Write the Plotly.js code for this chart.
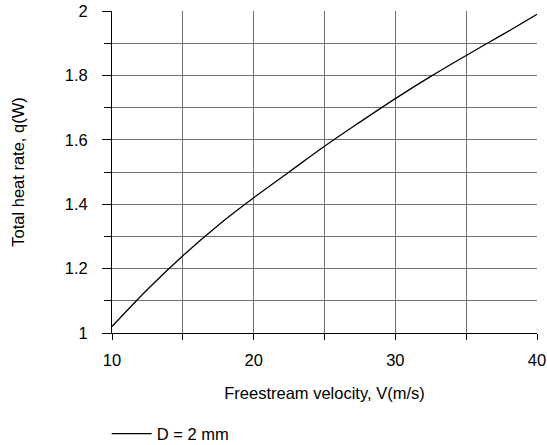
<!DOCTYPE html>
<html><head><meta charset="utf-8">
<script src="https://cdn.plot.ly/plotly-3.0.1.min.js"></script>
<style>html,body{margin:0;padding:0;background:#fff}</style>
</head><body>
<div id="chart" style="width:547px;height:445px"></div>
<script>
var velocity = [10, 12.5, 15, 17.5, 20, 22.5, 25, 27.5, 30, 32.5, 35, 37.5, 40];
var heatRate = [1.02, 1.135, 1.24, 1.335, 1.42, 1.50, 1.58, 1.655, 1.728, 1.797, 1.862, 1.925, 1.99];
var seriesName = 'D = 2 mm';
var xTitle = 'Freestream velocity, V(m/s)';
var yTitle = 'Total heat rate, q(W)';

var fam = 'Liberation Sans, Arial, sans-serif';
var fs = 16.5;
var font = {family: fam, size: fs, color: '#000'};
var trace = {
  x: velocity, y: heatRate, mode: 'lines', name: seriesName,
  line: {color: '#000', width: 1.3, shape: 'spline'}
};
var layout = {
  width: 547, height: 445,
  margin: {l: 112, r: 10, t: 11, b: 112},
  paper_bgcolor: '#fff', plot_bgcolor: '#fff',
  font: font,
  showlegend: true,
  legend: {orientation: 'h', xref: 'container', yref: 'container', x: 0.195, xanchor: 'left',
           y: 0.025, yanchor: 'middle', itemwidth: 40, font: {family: fam, size: fs, color: '#000'}},
  xaxis: {
    automargin: false,
    range: [10, 40], dtick: 10, tick0: 10, ticks: 'outside', ticklen: 6, tickcolor: '#000',
    showline: true, linecolor: '#000', linewidth: 1, mirror: false,
    showgrid: true, gridcolor: '#707070', gridwidth: 1, zeroline: false,
    minor: {dtick: 5, ticks: 'outside', ticklen: 6, tickcolor: '#000', showgrid: true, gridcolor: '#707070', gridwidth: 1},
    title: {text: xTitle, font: {family: fam, size: fs}, standoff: 19},
    tickfont: {family: fam, size: fs},
    ticklabelstandoff: 6
  },
  yaxis: {
    automargin: false,
    range: [1, 2], dtick: 0.2, tick0: 1, ticks: 'outside', ticklen: 9, tickcolor: '#000',
    showline: true, linecolor: '#000', linewidth: 1,
    showgrid: true, gridcolor: '#707070', gridwidth: 1, zeroline: false,
    minor: {dtick: 0.1, ticks: 'outside', ticklen: 7, tickcolor: '#000', showgrid: true, gridcolor: '#707070', gridwidth: 1},
    title: {text: yTitle, font: {family: fam, size: fs}, standoff: 35},
    tickfont: {family: fam, size: fs},
    ticklabelstandoff: 11
  }
};
Plotly.newPlot('chart', [trace], layout, {staticPlot: true});
</script>
</body></html>
